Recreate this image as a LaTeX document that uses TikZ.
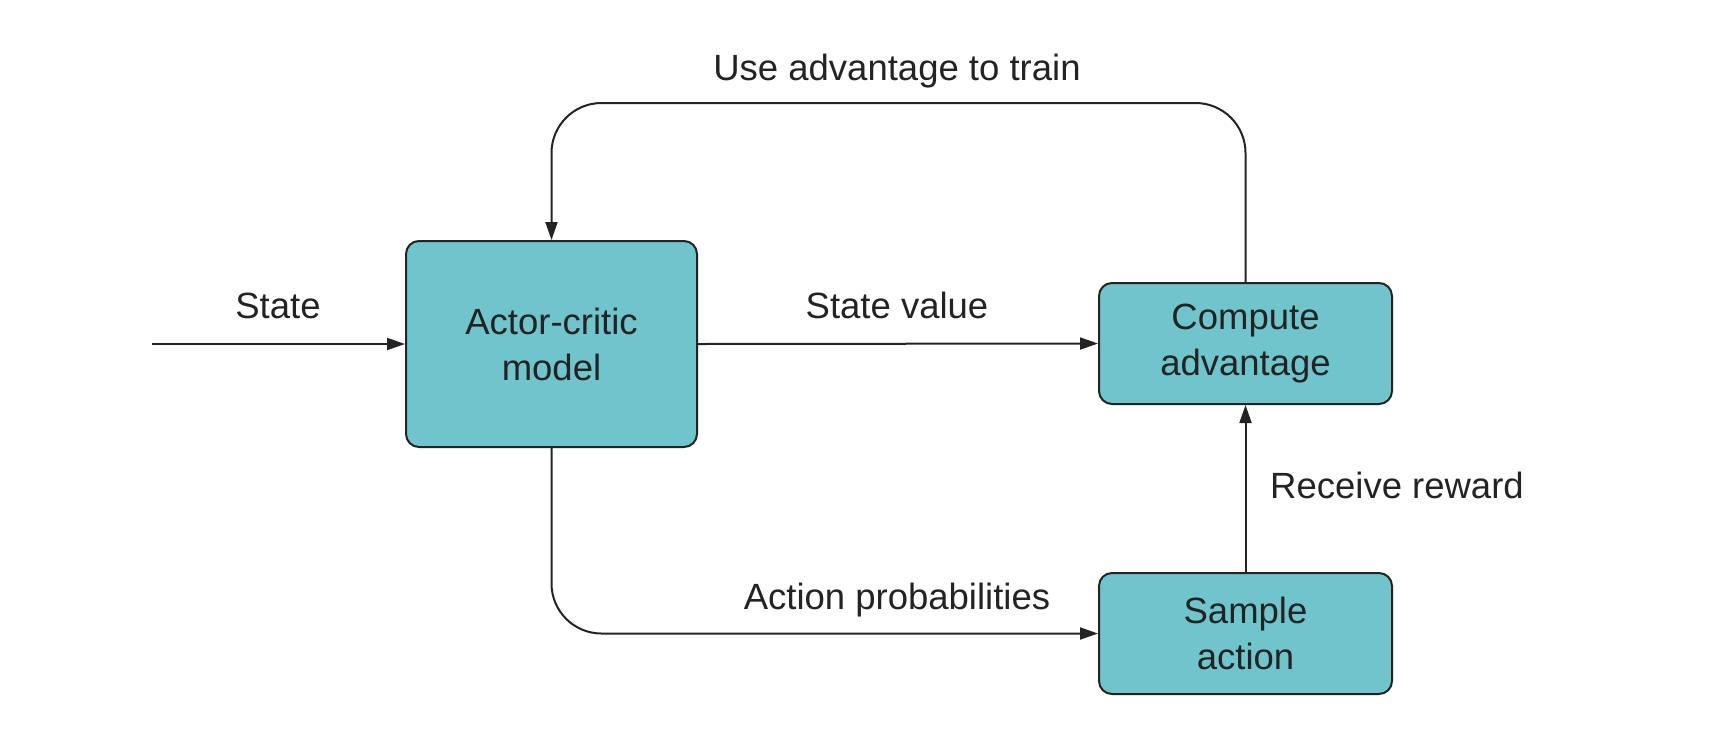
\documentclass[tikz,border=0pt]{standalone}
\usepackage{fontspec}
\setmainfont{Liberation Sans}
\usetikzlibrary{arrows.meta}
\definecolor{boxfill}{RGB}{112,197,204}
\definecolor{boxline}{RGB}{35,35,35}
\begin{document}
\begin{tikzpicture}[x=1pt,y=-1pt,
  blk/.style={draw=boxline,line width=2pt,fill=boxfill,rounded corners=13pt,align=center,
    font=\fontsize{36.5}{46}\selectfont,inner sep=0pt,text=boxline},
  lbl/.style={font=\fontsize{36.5}{46}\selectfont,inner sep=0pt,text=boxline},
  conn/.style={draw=boxline,line width=2pt,-{Triangle[length=18pt,width=12pt]}}]
\useasboundingbox (0,0) rectangle (1736,740);
\node[blk,minimum width=291pt,minimum height=206pt] (ac) at (551.5,344) {Actor-critic\\model};
\node[blk,minimum width=293pt,minimum height=121pt] (ca) at (1245.5,343.5) {Compute\\advantage};
\node[blk,minimum width=293pt,minimum height=121pt] (sa) at (1245.5,633.5) {Sample\\action};
\coordinate (in) at (152,344);
\draw[conn] (in) -- (ac.west);
\draw[conn] (ac.east) -- (ca.west);
\draw[conn,rounded corners=50pt] (ca.north) -- (1245.5,103) -- (551.5,103) -- (ac.north);
\draw[conn,rounded corners=50pt] (ac.south) -- (551.5,633.5) -- (sa.west);
\draw[conn] (sa.north) -- (ca.south);
\node[lbl,anchor=base] (l1) at (278,318) {State};
\node[lbl,anchor=base] (l2) at (897,318) {State value};
\node[lbl,anchor=base] (l3) at (897,80) {Use advantage to train};
\node[lbl,anchor=base] (l4) at (897,609) {Action probabilities};
\node[lbl,anchor=base west] (l5) at (1270,498) {Receive reward};
\end{tikzpicture}
\end{document}
